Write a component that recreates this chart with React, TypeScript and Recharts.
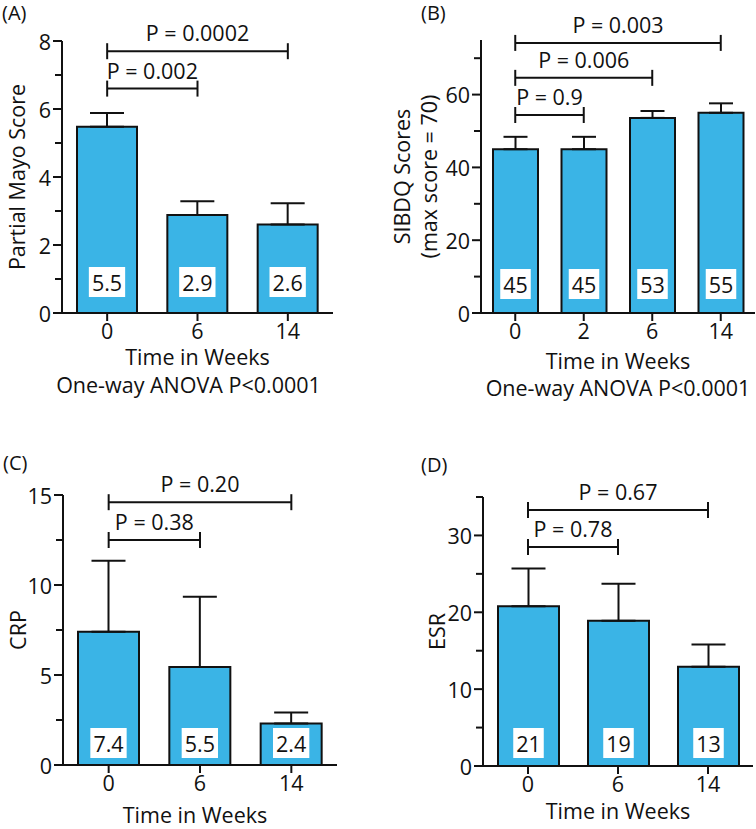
import React from 'react';
import { BarChart, Bar, XAxis, YAxis, ErrorBar, ReferenceLine, LabelList, Label } from 'recharts';

const FONT = '"Open Sans", sans-serif';
const INK = '#111';
const BLUE = '#3AB4E6';
const FS = 21.5;
const XH = 30;

// (A) Partial Mayo
const mayoWeeks = ['0', '6', '14'];
const mayoMean = [5.48, 2.88, 2.6];
const mayoSem = [0.4, 0.41, 0.63];
const mayoLabels = ['5.5', '2.9', '2.6'];
const mayoTicks = [0, 1, 2, 3, 4, 5, 6, 7, 8];
const mayoP = [
    { from: '0', to: '6', y: 6.6, text: 'P = 0.002' },
    { from: '0', to: '14', y: 7.7, text: 'P = 0.0002' },
];

// (B) SIBDQ
const sibdqWeeks = ['0', '2', '6', '14'];
const sibdqMean = [45, 45, 53.6, 55];
const sibdqSem = [3.4, 3.4, 1.9, 2.6];
const sibdqLabels = ['45', '45', '53', '55'];
const sibdqTicks = [0, 10, 20, 30, 40, 50, 60, 70];
const sibdqP = [
    { from: '0', to: '2', y: 54.4, text: 'P = 0.9' },
    { from: '0', to: '6', y: 64.6, text: 'P = 0.006' },
    { from: '0', to: '14', y: 74.2, text: 'P = 0.003' },
];

// (C) CRP
const crpWeeks = ['0', '6', '14'];
const crpMean = [7.4, 5.45, 2.3];
const crpSem = [3.95, 3.9, 0.62];
const crpLabels = ['7.4', '5.5', '2.4'];
const crpTicks = [0, 2.5, 5, 7.5, 10, 12.5, 15];
const crpP = [
    { from: '0', to: '6', y: 12.5, text: 'P = 0.38' },
    { from: '0', to: '14', y: 14.6, text: 'P = 0.20' },
];

// (D) ESR
const esrWeeks = ['0', '6', '14'];
const esrMean = [20.8, 18.9, 12.9];
const esrSem = [4.9, 4.8, 2.9];
const esrLabels = ['21', '19', '13'];
const esrTicks = [0, 5, 10, 15, 20, 25, 30, 35];
const esrP = [
    { from: '0', to: '6', y: 28.5, text: 'P = 0.78' },
    { from: '0', to: '14', y: 33.3, text: 'P = 0.67' },
];

const txt = { fontFamily: FONT, fontSize: FS, fill: INK };

function textWidth(s: string) {
    let w = 0;
    for (const c of s) w += c === '.' ? 0.27 : 0.57;
    return w * FS;
}

function YTick({ x, y, payload, major }: any) {
    const isMajor = Math.abs(payload.value % major) < 1e-6;
    return (
        <g>
            <line x1={x - (isMajor ? 9 : 7)} x2={x} y1={y} y2={y} stroke={INK} strokeWidth={2} />
            {isMajor && (
                <text x={x - 11} y={y} textAnchor="end" dominantBaseline="central" {...txt}>
                    {payload.value}
                </text>
            )}
        </g>
    );
}

function XTick({ x, y, payload }: any) {
    return (
        <g>
            <line x1={x} x2={x} y1={y} y2={y + 8} stroke={INK} strokeWidth={2} />
            <text x={x} y={y + 26} textAnchor="middle" {...txt}>{payload.value}</text>
        </g>
    );
}

function Panel(p: any) {
    const rows = p.weeks.map((w: string, i: number) => ({
        week: w,
        mean: p.means[i],
        err: [0, p.sems[i]],
        label: p.labels[i],
    }));
    const plotTop = p.margin.top;
    const plotBottom = p.height - p.margin.bottom - XH;
    const plotMid = (plotTop + plotBottom) / 2;
    const plotCx = (p.yAxisWidth + p.width - p.margin.right) / 2;

    const box = (lp: any) => {
        const { x, y, width, height, value } = lp;
        const cx = x + width / 2;
        const bottom = y + height - p.boxGap;
        const w = textWidth(String(value)) + 6;
        return (
            <g>
                <rect x={cx - w / 2} y={bottom - 30} width={w} height={30} fill="#fff" />
                <text x={cx} y={bottom - 15} textAnchor="middle" dominantBaseline="central" {...txt}>{value}</text>
            </g>
        );
    };

    return (
        <div style={{ position: 'absolute', left: p.left, top: p.top, width: p.width, height: p.height }}>
            <BarChart width={p.width} height={p.height} data={rows} margin={p.margin} barSize={p.barSize}>
                <XAxis
                    dataKey="week"
                    height={XH}
                    interval={0}
                    tickSize={0}
                    tickMargin={0}
                    tickLine={false}
                    axisLine={{ stroke: INK, strokeWidth: 2 }}
                    tick={XTick}
                >
                    <Label
                        value={p.xTitle[0]}
                        content={() => (
                            <g>
                                {p.xTitle.map((t: string, i: number) => (
                                    <text key={i} x={plotCx + p.xTitleDx[i]} y={plotBottom + p.xTitleDy[i]} textAnchor="middle" {...txt}>{t}</text>
                                ))}
                            </g>
                        )}
                    />
                </XAxis>
                <YAxis
                    width={p.yAxisWidth}
                    domain={p.domain}
                    ticks={p.ticks}
                    interval={0}
                    allowDataOverflow
                    tickSize={0}
                    tickMargin={0}
                    tickLine={false}
                    axisLine={{ stroke: INK, strokeWidth: 2 }}
                    tick={(t: any) => <YTick {...t} major={p.major} />}
                >
                    <Label
                        value={p.yTitle[0]}
                        content={() => (
                            <g>
                                {p.yTitle.map((t: string, i: number) => (
                                    <text key={i} x={p.yTitleX[i]} y={plotMid} textAnchor="middle" dominantBaseline="central"
                                        transform={`rotate(-90, ${p.yTitleX[i]}, ${plotMid})`} {...txt}>{t}</text>
                                ))}
                                <text x={p.letterX} y={p.letterY} {...txt} fontSize={20}>{p.letter}</text>
                            </g>
                        )}
                    />
                </YAxis>
                <Bar dataKey="mean" fill={BLUE} stroke={INK} strokeWidth={2} isAnimationActive={false}>
                    <ErrorBar dataKey="err" width={p.capHalf} stroke={INK} strokeWidth={2} direction="y" isAnimationActive={false} />
                    <LabelList dataKey="label" content={box} />
                </Bar>
                {p.brackets.map((b: any) => (
                    <ReferenceLine
                        key={b.text}
                        segment={[{ x: b.from, y: b.y }, { x: b.to, y: b.y }]}
                        shape={(sp: any) => (
                            <g>
                                <line x1={sp.x1} x2={sp.x2} y1={sp.y1} y2={sp.y1} stroke={INK} strokeWidth={2} />
                                <line x1={sp.x1} x2={sp.x1} y1={sp.y1 - 8} y2={sp.y1 + 8} stroke={INK} strokeWidth={2} />
                                <line x1={sp.x2} x2={sp.x2} y1={sp.y1 - 8} y2={sp.y1 + 8} stroke={INK} strokeWidth={2} />
                                <text x={(sp.x1 + sp.x2) / 2} y={sp.y1 - 10} textAnchor="middle" {...txt}>{b.text}</text>
                            </g>
                        )}
                    />
                ))}
            </BarChart>
        </div>
    );
}

export default function App() {
    return (
        <div style={{ position: 'absolute', left: 0, top: 0, width: 756, height: 829, background: '#fff' }}>
            <Panel
                left={0} top={0} width={378} height={414}
                margin={{ top: 41, right: 45, bottom: 71, left: 0 }} yAxisWidth={62}
                weeks={mayoWeeks} means={mayoMean} sems={mayoSem} labels={mayoLabels}
                domain={[0, 8]} ticks={mayoTicks} major={2} brackets={mayoP}
                barSize={60} capHalf={17} boxGap={16}
                yTitle={['Partial Mayo Score']} yTitleX={[16]}
                xTitle={['Time in Weeks', 'One-way ANOVA P<0.0001']} xTitleDx={[0, -9]} xTitleDy={[52, 80]}
                letter="(A)" letterX={2} letterY={20}
            />
            <Panel
                left={378} top={0} width={378} height={414}
                margin={{ top: 40, right: 1, bottom: 71, left: 0 }} yAxisWidth={103}
                weeks={sibdqWeeks} means={sibdqMean} sems={sibdqSem} labels={sibdqLabels}
                domain={[0, 75]} ticks={sibdqTicks} major={20} brackets={sibdqP}
                barSize={45} capHalf={12} boxGap={14}
                yTitle={['SIBDQ Scores', '(max score = 70)']} yTitleX={[23, 50]}
                xTitle={['Time in Weeks', 'One-way ANOVA P<0.0001']} xTitleDx={[0, 0]} xTitleDy={[56, 83]}
                letter="(B)" letterX={43} letterY={20}
            />
            <Panel
                left={0} top={414} width={378} height={415}
                margin={{ top: 81, right: 41, bottom: 34, left: 0 }} yAxisWidth={63}
                weeks={crpWeeks} means={crpMean} sems={crpSem} labels={crpLabels}
                domain={[0, 15]} ticks={crpTicks} major={5} brackets={crpP}
                barSize={61} capHalf={17} boxGap={7}
                yTitle={['CRP']} yTitleX={[17]}
                xTitle={['Time in Weeks']} xTitleDx={[-5]} xTitleDy={[58]}
                letter="(C)" letterX={3} letterY={56}
            />
            <Panel
                left={378} top={414} width={378} height={415}
                margin={{ top: 83, right: 3, bottom: 33, left: 0 }} yAxisWidth={105}
                weeks={esrWeeks} means={esrMean} sems={esrSem} labels={esrLabels}
                domain={[0, 35]} ticks={esrTicks} major={10} brackets={esrP}
                barSize={61} capHalf={17} boxGap={8}
                yTitle={['ESR']} yTitleX={[58]}
                xTitle={['Time in Weeks']} xTitleDx={[0]} xTitleDy={[53]}
                letter="(D)" letterX={43} letterY={58}
            />
        </div>
    );
}
